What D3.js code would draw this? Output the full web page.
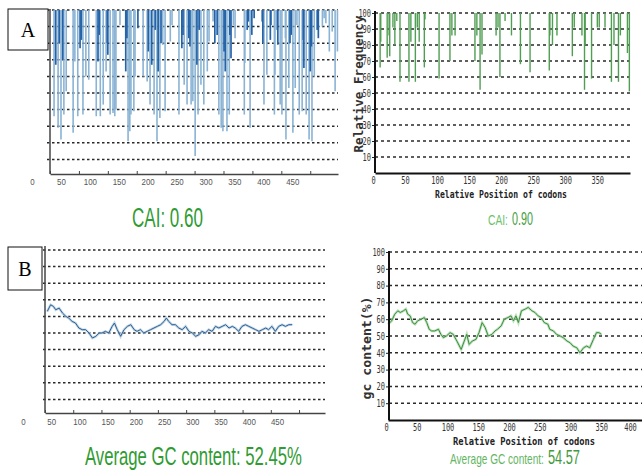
<!DOCTYPE html>
<html>
<head>
<meta charset="utf-8">
<script src="https://cdn.jsdelivr.net/npm/d3@7"></script>
<style>
  body { margin: 0; background: #fff; }
  svg { display: block; }
</style>
</head>
<body>
<svg id="chart" width="642" height="470"></svg>
<script>
// ---- data ----
// A, left: relative adaptiveness per codon (original gene). only codons < 100 are listed
const caiOrigPos = [7,10,14,16,19,22,24,28,40,43,48,52,54,57,62,67,80,83,85,87,92,97,99,100,104,109,112,114,121,131,133,135,138,140,145,147,152,161,168,170,173,176,180,182,185,187,190,192,195,199,208,211,223,228,230,232,237,240,242,244,247,251,254,256,258,261,266,272,275,282,285,289,292,296,299,301,303,306,310,311,313,317,320,336,337,341,343,346,349,353,367,368,370,375,381,382,388,389,393,394,398,401,407,408,413,415,417,420,424,427,431,436,438,439,443,448,450,452,453,457,462,464,471,474,477,483,488,493,497];
const caiOrigVal = [36,67,29,80,22,70,37,51,26,69,36,77,82,37,60,58,36,69,85,36,43,63,80,73,37,38,36,40,91,63,83,21,27,37,39,60,89,60,57,75,43,67,37,88,21,63,35,80,79,39,81,91,37,77,85,55,43,83,78,43,45,12,67,37,88,55,43,63,81,93,80,85,37,29,27,75,63,27,37,85,71,91,83,37,68,88,93,29,85,95,93,80,43,61,82,91,37,61,88,79,43,37,83,22,53,80,85,26,53,91,37,39,82,65,37,22,63,78,21,60,88,83,90,95,92,75,87,51,75];
const caiOrigDark = [0,1,0,1,0,1,0,0,0,0,0,1,1,0,0,0,0,1,1,0,0,0,1,1,0,0,0,0,0,1,1,0,0,0,0,0,1,0,0,1,0,1,0,1,0,1,0,1,0,0,0,0,0,1,1,0,0,1,1,0,0,0,1,0,1,0,0,0,0,0,1,1,0,0,0,1,1,0,0,1,1,0,0,0,0,1,1,0,1,1,1,1,0,0,1,1,0,0,1,1,0,0,0,0,0,1,1,0,0,0,0,0,1,1,0,0,1,1,0,0,1,1,0,0,0,0,0,0,0];

// A, right: relative frequency per codon (optimized gene)
const caiOptPos = [8,9,19,22,23,28,31,34,39,53,56,63,66,69,77,78,100,117,120,125,156,159,164,167,189,192,195,203,213,227,242,272,273,277,284,308,311,323,327,328,338,347,350,359,369,373,380,383,394,397];
const caiOptVal = [66,82,72,86,73,91,80,95,57,57,82,57,91,82,66,96,59,70,86,86,70,86,52,74,86,91,60,95,86,68,63,64,86,80,86,73,91,86,52,80,59,91,91,91,57,80,57,86,75,51];

// B, left: GC content (%) along the original gene
const gcOrigPos = [4,10,15,19,25,31,37,42,48,54,60,66,72,78,84,90,96,101,107,113,119,123,128,134,140,146,152,158,163,169,175,181,187,193,199,205,211,215,219,225,231,237,243,249,255,261,267,273,278,284,290,296,302,308,314,320,326,332,337,343,349,355,361,367,373,379,385,391,396,402,408,414,420,426,432,438];
const gcOrigVal = [63,67,66,64,65,62,60,59,57,56,53,52,52,50,47,48,50,50,51,50,54,56,52,48,52,54,55,52,51,52,50,51,52,53,54,55,57,59,57,55,55,53,52,54,51,50,48,49,51,50,52,51,54,53,54,55,53,54,53,51,54,55,54,53,52,51,52,53,52,54,51,54,55,54,55,55];

// B, right: GC content (%) along the optimized gene
const gcOptPos = [0,6,11,16,20,25,29,32,36,40,44,48,54,59,63,67,71,76,82,86,90,95,101,106,112,119,124,128,132,137,143,148,153,158,163,169,174,178,184,189,195,200,204,208,212,217,223,228,234,239,244,249,254,260,263,269,274,280,285,291,296,301,307,312,318,323,328,334,339,343,347];
const gcOptVal = [57,59,63,65,64,65,66,63,62,58,57,59,60,61,58,54,53,53,54,51,49,50,52,51,47,42,47,51,45,47,48,52,58,55,50,51,53,54,56,60,61,62,59,62,58,65,66,67,65,64,62,61,58,57,54,53,51,50,49,47,46,44,43,40,43,44,43,48,52,52,51];

const gridValues = [10, 20, 30, 40, 50, 60, 70, 80, 90, 100];
const xTicksLeft = [0, 50, 100, 150, 200, 250, 300, 350, 400, 450];
const xTicksTopRight = [0, 50, 100, 150, 200, 250, 300, 350];
const xTicksBottomRight = [0, 50, 100, 150, 200, 250, 300, 350, 400];

const svg = d3.select("#chart");
svg.append("rect").attr("width", 642).attr("height", 470).attr("fill", "#fff");

const sans = "'Liberation Sans', Arial, sans-serif";
const mono = "'DejaVu Sans Mono', 'Liberation Mono', monospace";

function grid(g, x, y, x0, x1, dash) {
  g.append("g").selectAll("line")
    .data(gridValues)
    .join("line")
      .attr("x1", x0).attr("x2", x1)
      .attr("y1", d => y(d)).attr("y2", d => y(d))
      .attr("stroke", "#2a2a2a")
      .attr("stroke-width", 1.5)
      .attr("stroke-dasharray", dash);
}

function squeeze(sel, perChar) {
  sel.attr("textLength", function() { return this.textContent.length * perChar; })
     .attr("lengthAdjust", "spacingAndGlyphs");
}

// condensed text: measure, then scale horizontally to the wanted width
function fitted(g, x0, y0, str, font, fill, width) {
  const t = g.append("text").attr("fill", fill).style("font", font).text(str);
  const w = t.node().getComputedTextLength();
  t.attr("transform", `translate(${x0},${y0}) scale(${width / w},1)`);
  return t;
}

function bottomAxis(g, x, ticks, yPos, dx, opts) {
  const ax = g.append("g")
    .attr("transform", `translate(0,${yPos})`)
    .call(d3.axisBottom(x).tickValues(ticks).tickSize(opts.tick).tickSizeOuter(0).tickPadding(opts.pad));
  ax.select(".domain").attr("stroke", opts.color).attr("stroke-width", opts.width);
  ax.selectAll(".tick line").attr("stroke", opts.color).attr("stroke-width", 1);
  ax.selectAll(".tick text")
    .attr("dx", dx)
    .attr("fill", opts.text)
    .style("font", opts.font);
  squeeze(ax.selectAll(".tick text"), opts.perChar);
  return ax;
}

function leftLine(g, x0, yTop, yBot, color, width) {
  g.append("line").attr("x1", x0).attr("x2", x0).attr("y1", yTop).attr("y2", yBot)
    .attr("stroke", color).attr("stroke-width", width);
}

function labelBox(txt, x0, y0, w, h) {
  svg.append("rect").attr("x", x0).attr("y", y0).attr("width", w).attr("height", h)
    .attr("fill", "#fff").attr("stroke", "#111").attr("stroke-width", 1);
  svg.append("text").attr("x", x0 + w / 2).attr("y", y0 + h / 2 + 7)
    .attr("text-anchor", "middle")
    .style("font", "20px 'Liberation Serif', 'Times New Roman', serif")
    .text(txt);
}

// ---------- top left: CAI original ----------
{
  const g = svg.append("g");
  const x = d3.scaleLinear().domain([0, 498]).range([50, 338]);
  const y = d3.scaleLinear().domain([0, 100]).range([176, 10]);
  grid(g, x, y, 47, 338, "2.5,2.5");
  const idx = d3.range(caiOrigPos.length).sort((a, b) => caiOrigDark[a] - caiOrigDark[b]);
  g.append("g").selectAll("line")
    .data(idx)
    .join("line")
      .attr("x1", i => x(caiOrigPos[i])).attr("x2", i => x(caiOrigPos[i]))
      .attr("y1", y(100)).attr("y2", i => y(caiOrigVal[i]))
      .attr("stroke", i => caiOrigDark[i] ? "#2563a8" : "#8ab3d4")
      .attr("stroke-width", i => caiOrigDark[i] ? 1.7 : 1.6);
  leftLine(g, 50, 9, 174, "#444", 1.5);
  bottomAxis(g, x, xTicksLeft, 174, -18,
    { tick: -3, pad: 5, color: "#444", width: 1.5, text: "#555", font: `9px ${sans}`, perChar: 4.4 });
  labelBox("A", 8, 9, 40, 41);
  fitted(svg, 132, 227, "CAI: 0.60", `27px ${sans}`, "#2f9b32", 71);
}

// ---------- top right: CAI optimized ----------
{
  const g = svg.append("g");
  const x = d3.scaleLinear().domain([0, 398]).range([375, 630]);
  const y = d3.scaleLinear().domain([0, 100]).range([173, 13]);
  grid(g, x, y, 375, 630, "3,3");
  g.append("g").selectAll("line")
    .data(caiOptPos)
    .join("line")
      .attr("x1", d => x(d)).attr("x2", d => x(d))
      .attr("y1", y(100)).attr("y2", (d, i) => y(caiOptVal[i]))
      .attr("stroke", "#4f9e52")
      .attr("stroke-width", 1.4);
  const ay = g.append("g")
    .attr("transform", "translate(375,0)")
    .call(d3.axisLeft(y).tickValues(gridValues).tickSize(3).tickPadding(1));
  ay.select(".domain").remove();
  ay.selectAll(".tick line").attr("stroke", "#222");
  ay.selectAll(".tick text").attr("fill", "#333").style("font", `10px ${mono}`);
  squeeze(ay.selectAll(".tick text"), 4.2);
  leftLine(g, 375, 11, 173, "#111", 2);
  bottomAxis(g, x, xTicksTopRight, 173, -2,
    { tick: 0, pad: 4, color: "#111", width: 2, text: "#333", font: `10px ${mono}`, perChar: 4.2 });
  g.append("text")
    .attr("transform", "translate(363,84) rotate(-90)")
    .attr("text-anchor", "middle")
    .attr("fill", "#333")
    .attr("textLength", 137).attr("lengthAdjust", "spacingAndGlyphs")
    .style("font", `bold 12px ${mono}`)
    .text("Relative Frequency");
  g.append("text")
    .attr("x", 501).attr("y", 198)
    .attr("text-anchor", "middle")
    .attr("fill", "#222")
    .attr("textLength", 132).attr("lengthAdjust", "spacingAndGlyphs")
    .style("font", `bold 11px ${mono}`)
    .text("Relative Position of codons");
  fitted(g, 488, 225, "CAI:", `15px ${sans}`, "#6cbf6c", 20);
  fitted(g, 512, 225, "0.90", `18px ${sans}`, "#3f9d40", 21);
}

// ---------- bottom left: GC original ----------
{
  const g = svg.append("g");
  const x = d3.scaleLinear().domain([0, 496]).range([45, 325]);
  const y = d3.scaleLinear().domain([0, 100]).range([416, 250]);
  grid(g, x, y, 43, 325, "2.5,2.5");
  const line = d3.line().x((d, i) => x(gcOrigPos[i])).y(d => y(d));
  g.append("path").datum(gcOrigVal).attr("d", line)
    .attr("fill", "none").attr("stroke", "#a8c6df").attr("stroke-width", 2.6).attr("opacity", 0.7);
  g.append("path").datum(gcOrigVal).attr("d", line)
    .attr("fill", "none").attr("stroke", "#2e5f8e").attr("stroke-width", 1);
  leftLine(g, 45, 246, 413, "#444", 1.5);
  bottomAxis(g, x, xTicksLeft, 413, -22,
    { tick: -3, pad: 6, color: "#444", width: 1.5, text: "#555", font: `9px ${sans}`, perChar: 4.4 });
  labelBox("B", 8, 247, 34, 43);
  fitted(svg, 85, 465, "Average GC content: 52.45%", `25px ${sans}`, "#2f9b32", 217);
}

// ---------- bottom right: GC optimized ----------
{
  const g = svg.append("g");
  const x = d3.scaleLinear().domain([0, 413]).range([388, 642]);
  const y = d3.scaleLinear().domain([0, 100]).range([420, 252]);
  grid(g, x, y, 389, 642, "3,3");
  const line = d3.line().x((d, i) => x(gcOptPos[i])).y(d => y(d));
  g.append("path").datum(gcOptVal).attr("d", line)
    .attr("fill", "none").attr("stroke", "#a6d4a6").attr("stroke-width", 2.6).attr("opacity", 0.7);
  g.append("path").datum(gcOptVal).attr("d", line)
    .attr("fill", "none").attr("stroke", "#3a8f3c").attr("stroke-width", 1);
  const ay = g.append("g")
    .attr("transform", "translate(389,0)")
    .call(d3.axisLeft(y).tickValues(gridValues).tickSize(3).tickPadding(1));
  ay.select(".domain").remove();
  ay.selectAll(".tick line").attr("stroke", "#222");
  ay.selectAll(".tick text").attr("fill", "#333").style("font", `10px ${mono}`);
  squeeze(ay.selectAll(".tick text"), 4.2);
  leftLine(g, 389, 251, 420, "#111", 2);
  const ax = bottomAxis(g, x, xTicksBottomRight, 420, -2,
    { tick: 0, pad: 4, color: "#111", width: 2, text: "#333", font: `10px ${mono}`, perChar: 4.2 });
  ax.selectAll(".tick text").filter(d => d === 400).attr("dx", -4);
  g.append("text")
    .attr("transform", "translate(371,348) rotate(-90)")
    .attr("text-anchor", "middle")
    .attr("fill", "#333")
    .attr("textLength", 103).attr("lengthAdjust", "spacingAndGlyphs")
    .style("font", `bold 12px ${mono}`)
    .text("gc content(%)");
  g.append("text")
    .attr("x", 524).attr("y", 445)
    .attr("text-anchor", "middle")
    .attr("fill", "#222")
    .attr("textLength", 142).attr("lengthAdjust", "spacingAndGlyphs")
    .style("font", `bold 11px ${mono}`)
    .text("Relative Position of codons");
  fitted(g, 450, 464, "Average GC content:", `15px ${sans}`, "#62b562", 94);
  fitted(g, 548, 464, "54.57", `20px ${sans}`, "#3f9a40", 32);
}
</script>
</body>
</html>
